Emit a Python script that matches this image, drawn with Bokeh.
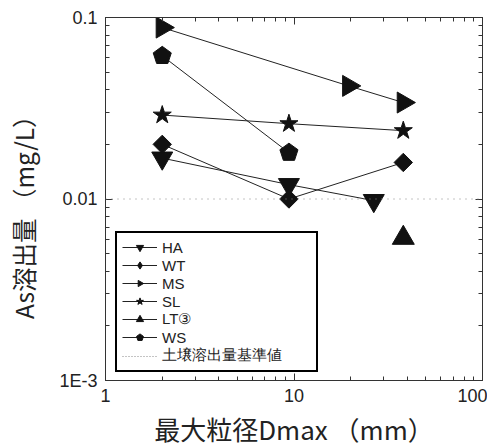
import math
from bokeh.plotting import figure
from bokeh.models import FixedTicker, LogAxis, Span, Legend, LegendItem, Range1d
from bokeh.embed import file_html
from bokeh.resources import INLINE

# ---- data ----
ha_x = [2.0, 9.4, 26.5]
ha_y = [0.0168, 0.0120, 0.0098]
wt_x = [2.0, 9.4, 38.0]
wt_y = [0.0200, 0.0100, 0.0159]
ms_x = [2.0, 19.5, 38.0]
ms_y = [0.088, 0.042, 0.034]
sl_x = [2.0, 9.4, 38.0]
sl_y = [0.0290, 0.0260, 0.0238]
lt_x = [38.0]
lt_y = [0.0061]
ws_x = [2.0, 9.4]
ws_y = [0.0615, 0.0180]
standard_value = 0.01

x_ticks = [1, 10, 100]
x_minor = [2, 3, 4, 5, 6, 7, 8, 9, 20, 30, 40, 50, 60, 70, 80, 90]
y_ticks = [0.001, 0.01, 0.1]
y_minor = [0.002, 0.003, 0.004, 0.005, 0.006, 0.007, 0.008, 0.009,
           0.02, 0.03, 0.04, 0.05, 0.06, 0.07, 0.08, 0.09]
y_tick_labels = {0.001: "1E-3", 0.01: "0.01", 0.1: "0.1"}
x_tick_labels = {1: "1", 10: "10", 100: "100"}

x_title = "最大粒径Dmax （mm）"
y_title = "As溶出量 （mg/L）"
legend_labels = ["HA", "WT", "MS", "SL", "LT③", "WS", "土壌溶出量基準値"]

LINE = "#222222"
MARK = "#111111"
TICK_FONT = "Liberation Sans"
CJK = "Noto Sans CJK JP"

p = figure(width=503, height=446, x_axis_type="log", y_axis_type="log",
           x_range=Range1d(1, 100), y_range=Range1d(0.001, 0.1),
           output_backend="svg", toolbar_location=None,
           frame_width=377, frame_height=363,
           min_border_left=105, min_border_top=17, min_border_right=5, min_border_bottom=40)
p.grid.visible = False
p.outline_line_color = "#333333"
p.background_fill_color = "white"
p.border_fill_color = "white"

xt = FixedTicker(ticks=x_ticks, minor_ticks=x_minor)
yt = FixedTicker(ticks=y_ticks, minor_ticks=y_minor)

def style_axis(ax):
    ax.axis_line_color = "#333333"
    ax.major_tick_in = 7
    ax.major_tick_out = 0
    ax.minor_tick_in = 4
    ax.minor_tick_out = 0
    ax.major_tick_line_color = "#333333"
    ax.minor_tick_line_color = "#333333"

xa = p.xaxis[0]
xa.ticker = xt
xa.major_label_overrides = x_tick_labels
xa.major_label_text_font = TICK_FONT
xa.major_label_text_font_size = "18px"
xa.major_label_text_color = "#222222"
xa.major_label_standoff = 8
xa.axis_label = x_title
xa.axis_label_text_font = CJK
xa.axis_label_text_font_style = "normal"
xa.axis_label_text_font_size = "26px"
xa.axis_label_text_color = "#222222"
xa.axis_label_standoff = 5
style_axis(xa)

ya = p.yaxis[0]
ya.ticker = yt
ya.major_label_overrides = y_tick_labels
ya.major_label_text_font = TICK_FONT
ya.major_label_text_font_size = "18px"
ya.major_label_text_color = "#222222"
ya.major_label_standoff = 8
# trailing non-collapsible spaces shift the visible title down to sit as in the reference
ya.axis_label = y_title + "\u3000\u2002"
ya.axis_label_text_font = CJK
ya.axis_label_text_font_style = "normal"
ya.axis_label_text_font_size = "24.5px"
ya.axis_label_text_color = "#222222"
ya.axis_label_standoff = 15
style_axis(ya)

ra = LogAxis(ticker=yt, major_label_text_color=None, major_label_standoff=0,
             major_label_text_font_size="2px")
style_axis(ra)
p.add_layout(ra, "right")
ta = LogAxis(ticker=xt, major_label_text_color=None, major_label_standoff=0,
             major_label_text_font_size="2px")
style_axis(ta)
p.add_layout(ta, "above")

# standard line
p.add_layout(Span(location=standard_value, dimension="width", line_color="#888888",
                  line_dash="1 5", line_width=1))

# series lines
for xs, ys in [(ha_x, ha_y), (wt_x, wt_y), (ms_x, ms_y), (sl_x, sl_y), (ws_x, ws_y)]:
    p.line(xs, ys, line_color=LINE, line_width=1)

# markers
p.scatter(ha_x, ha_y, marker="inverted_triangle", size=21, fill_color=MARK, line_color=MARK)
p.scatter(wt_x, wt_y, marker="square", angle=math.pi / 4, size=13, fill_color=MARK, line_color=MARK)
p.scatter(ms_x, ms_y, marker="triangle", angle=-math.pi / 2, size=21, fill_color=MARK, line_color=MARK)
p.scatter(sl_x, sl_y, marker="star", size=19, fill_color=MARK, line_color=MARK)
p.scatter(lt_x, lt_y, marker="triangle", size=22, fill_color=MARK, line_color=MARK)
p.ngon(ws_x, ws_y, radius=9.5, radius_units="screen", n=5, angle=0,
       fill_color=MARK, line_color=MARK)

# legend proxies (placed outside the visible range)
items = []
def proxy_line():
    return p.line(x=[1], y=[1], line_color=LINE, line_width=1)

items.append(LegendItem(label=legend_labels[0], renderers=[
    proxy_line(), p.scatter(x=[1], y=[1], marker="inverted_triangle", fill_color=MARK, line_color=MARK)]))
items.append(LegendItem(label=legend_labels[1], renderers=[
    proxy_line(), p.scatter(x=[1], y=[1], marker="diamond", fill_color=MARK, line_color=MARK)]))
items.append(LegendItem(label=legend_labels[2], renderers=[
    proxy_line(), p.ngon(x=[1], y=[1], radius=4, radius_units="screen", n=3, angle=-math.pi / 2,
                         fill_color=MARK, line_color=MARK)]))
items.append(LegendItem(label=legend_labels[3], renderers=[
    proxy_line(), p.scatter(x=[1], y=[1], marker="star", fill_color=MARK, line_color=MARK)]))
items.append(LegendItem(label=legend_labels[4], renderers=[
    proxy_line(), p.scatter(x=[1], y=[1], marker="triangle", fill_color=MARK, line_color=MARK)]))
items.append(LegendItem(label=legend_labels[5], renderers=[
    proxy_line(), p.ngon(x=[1], y=[1], radius=4, radius_units="screen", n=5, angle=0,
                         fill_color=MARK, line_color=MARK)]))
ls = p.line(x=[1], y=[1], line_color="#888888", line_dash="1 2", line_width=1)
items.append(LegendItem(label=legend_labels[6], renderers=[ls]))

leg = Legend(items=items, location=(10, 8), glyph_width=35, glyph_height=18,
             label_height=18, label_width=149, spacing=0, padding=5, margin=0,
             label_standoff=5,
             label_text_font=TICK_FONT, label_text_font_size="15px",
             label_text_color="#222222",
             border_line_color="#000000", border_line_width=2.5, border_line_alpha=1.0,
             background_fill_color="white", background_fill_alpha=1.0)
p.add_layout(leg, "center")

open("out.html", "w").write(file_html(p, INLINE))
